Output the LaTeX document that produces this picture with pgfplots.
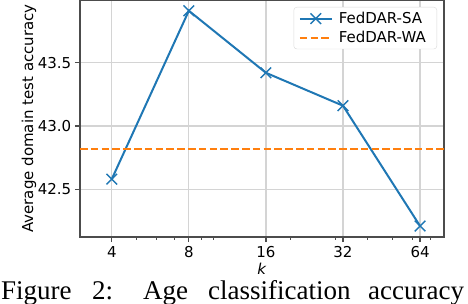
\documentclass[border=0pt]{standalone}
\usepackage{fontspec}
\setmainfont{DejaVu Sans}
\newfontfamily\capfont{Liberation Serif}
\usepackage{pgfplots}
\pgfplotsset{compat=1.18}
\definecolor{c0}{HTML}{1F77B4}
\definecolor{c1}{HTML}{FF7F0E}
\pgfplotsset{
  saleg/.style={legend image code/.code={\draw[##1, mark repeat=2, mark phase=2] plot coordinates {(0pt,0pt) (16pt,0pt) (32pt,0pt)};}},
  waleg/.style={legend image code/.code={\draw[##1] (0pt,0pt) -- (32pt,0pt);}},
}
\begin{document}
\begin{tikzpicture}[x=1pt,y=1pt]
\useasboundingbox (0,0) rectangle (468,304);
\begin{axis}[
  at={(80pt,67pt)}, anchor=south west,
  scale only axis, width=364pt, height=237pt,
  xmode=log,
  xmin=3.006, xmax=79.4, ymin=42.123, ymax=43.995,
  xtick={4,8,16,32,64}, xticklabels={4,8,16,32,64},
  minor xtick={3,5,6,7,9,10,20,30,40,50,60,70},
  ytick={42.5,43,43.5},
  yticklabel style={/pgf/number format/.cd,fixed,fixed zerofill,precision=1},
  /pgf/number format/assume math mode=true,
  tick label style={font=\fontsize{15}{18}\selectfont},
  xticklabel style={yshift=-1pt},
  label style={font=\fontsize{15}{18}\selectfont},
  tick align=outside, tick pos=left,
  major tick length=5.2pt, minor tick length=3pt,
  every tick/.style={black!70, line width=1.2pt},
  minor tick style={black!70, line width=0.9pt},
  axis line style={black!70, line width=1.2pt},
  grid=major, major grid style={black!17, line width=1.2pt},
  xlabel={\textit{k}},
  xlabel style={at={(axis description cs:0.5,-0.135)}, anchor=center},
  ylabel={Average domain test accuracy},
  ylabel style={at={(axis description cs:-0.14,0.5)}, anchor=center},
  legend style={at={(1,1)}, anchor=north east, xshift=-7pt, yshift=-7pt,
    draw=black!15, rounded corners=3pt, fill=white,
    font=\fontsize{15}{18}\selectfont,
    inner xsep=5pt, inner ysep=2pt, row sep=0pt,
    nodes={inner xsep=6pt, inner ysep=3pt}},
  legend cell align=left,
]
\addplot[c0, line width=2pt, mark=x, mark size=7.5pt, mark options={line width=1.4pt}, saleg]
  coordinates {(4,42.58) (8,43.91) (16,43.42) (32,43.16) (64,42.21)};
\addlegendentry{FedDAR-SA}
\addplot[c1, line width=2pt, dash pattern=on 7.5pt off 3.3pt, waleg]
  coordinates {(3.006,42.815) (79.4,42.815)};
\addlegendentry{FedDAR-WA}
\end{axis}
\begin{scope}[every node/.style={anchor=base west, inner sep=0pt, font=\capfont\fontsize{27}{30}\selectfont}]
\node at (1,4) {Figure};
\node at (92,4) {2:};
\node at (143,4) {Age};
\node at (208,4) {classification};
\node at (368,4) {accuracy};
\end{scope}
\end{tikzpicture}
\end{document}
